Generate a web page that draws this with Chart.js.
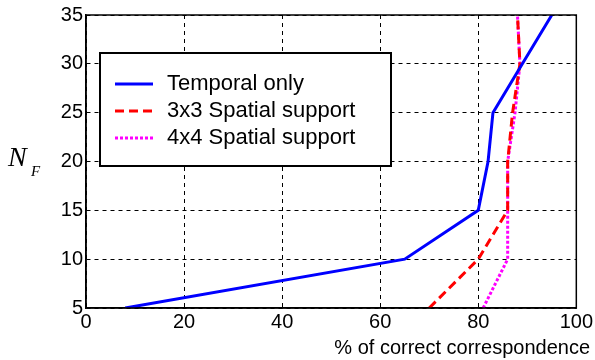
<!DOCTYPE html>
<html>
<head>
<meta charset="utf-8">
<script src="https://cdn.jsdelivr.net/npm/chart.js@4/dist/chart.umd.min.js"></script>
<style>
  html, body { margin: 0; padding: 0; background: #fff; }
  #wrap { width: 595px; height: 360px; }
</style>
</head>
<body>
<div id="wrap"><canvas id="chart" width="595" height="360"></canvas></div>
<script>
// N_F values on the vertical axis
const nfValues = [5, 10, 15, 20, 25, 30, 35];
// % of correct correspondence for each series
const temporalOnly = [8, 65, 80, 82, 83, 89, 95];
const spatial3x3 = [70, 80, 86, 86, 87, 88.5, 88];
const spatial4x4 = [81, 86, 86, 86, 87.5, 88.5, 88];
const seriesLabels = ["Temporal only", "3x3 Spatial support", "4x4 Spatial support"];

const ctxEl = document.getElementById("chart");

function toPoints(xs) {
    return xs.map((x, i) => ({ x: x, y: nfValues[i] }));
}

// frame, legend box and axis titles drawn on top
const extrasPlugin = {
    id: "extras",
    afterDraw(chart) {
        const ctx = chart.ctx;
        const area = chart.chartArea;
        ctx.save();
        ctx.strokeStyle = "#000";
        ctx.lineWidth = 1.5;
        ctx.setLineDash([]);
        ctx.strokeRect(area.left, area.top, area.right - area.left, area.bottom - area.top);

        // legend
        const bx = 100, by = 53, bw = 291, bh = 113;
        ctx.fillStyle = "#fff";
        ctx.fillRect(bx, by, bw, bh);
        ctx.lineWidth = 2;
        ctx.strokeRect(bx, by, bw, bh);
        ctx.font = "22px 'Liberation Sans', Arial, sans-serif";
        ctx.textBaseline = "middle";
        chart.data.datasets.forEach((ds, i) => {
            const y = by + 31 + i * 27;
            ctx.beginPath();
            ctx.strokeStyle = ds.borderColor;
            ctx.lineWidth = ds.borderWidth;
            ctx.setLineDash(ds.borderDash || []);
            ctx.moveTo(bx + 15, y);
            ctx.lineTo(bx + 53, y);
            ctx.stroke();
            ctx.setLineDash([]);
            ctx.fillStyle = "#000";
            ctx.fillText(ds.label, bx + 67, y);
        });

        // x title
        ctx.font = "20px 'Liberation Sans', Arial, sans-serif";
        ctx.textAlign = "right";
        ctx.fillText("% of correct correspondence", 590, 348);

        // y title N_F
        ctx.textAlign = "left";
        ctx.textBaseline = "alphabetic";
        ctx.font = "italic 28px 'Liberation Serif', 'Times New Roman', serif";
        ctx.fillText("N", 8, 166);
        ctx.font = "italic 15px 'Liberation Serif', 'Times New Roman', serif";
        ctx.fillText("F", 31, 176);
        ctx.restore();
    }
};

new Chart(ctxEl, {
    type: "scatter",
    data: {
        datasets: [
            {
                label: seriesLabels[0],
                data: toPoints(temporalOnly),
                showLine: true,
                borderColor: "#0000ff",
                borderWidth: 3,
                pointRadius: 0,
                fill: false,
            },
            {
                label: seriesLabels[1],
                data: toPoints(spatial3x3),
                showLine: true,
                borderColor: "#ff0000",
                borderWidth: 3,
                borderDash: [9, 5],
                pointRadius: 0,
                fill: false,
            },
            {
                label: seriesLabels[2],
                data: toPoints(spatial4x4),
                showLine: true,
                borderColor: "#ff00ff",
                borderWidth: 3,
                borderDash: [3, 2],
                pointRadius: 0,
                fill: false,
            }
        ]
    },
    options: {
        responsive: false,
        animation: false,
        layout: { padding: { left: 0, top: 14, right: 18, bottom: 0 } },
        plugins: {
            legend: { display: false },
            tooltip: { enabled: false }
        },
        scales: {
            x: {
                type: "linear",
                min: 0,
                max: 100,
                ticks: {
                    stepSize: 20,
                    color: "#000",
                    padding: 2,
                    font: { family: "'Liberation Sans', Arial, sans-serif", size: 20 }
                },
                grid: { color: "#000", lineWidth: 1, drawTicks: false },
                border: { display: true, color: "#000", width: 1.5, dash: [4, 4] },
                afterFit(scale) { scale.height = 52; }
            },
            y: {
                type: "linear",
                min: 5,
                max: 35,
                ticks: {
                    stepSize: 5,
                    color: "#000",
                    padding: 3,
                    font: { family: "'Liberation Sans', Arial, sans-serif", size: 20 }
                },
                grid: { color: "#000", lineWidth: 1, drawTicks: false },
                border: { display: true, color: "#000", width: 1.5, dash: [4, 4] },
                afterFit(scale) { scale.width = 86; }
            }
        }
    },
    plugins: [extrasPlugin]
});
</script>
</body>
</html>
